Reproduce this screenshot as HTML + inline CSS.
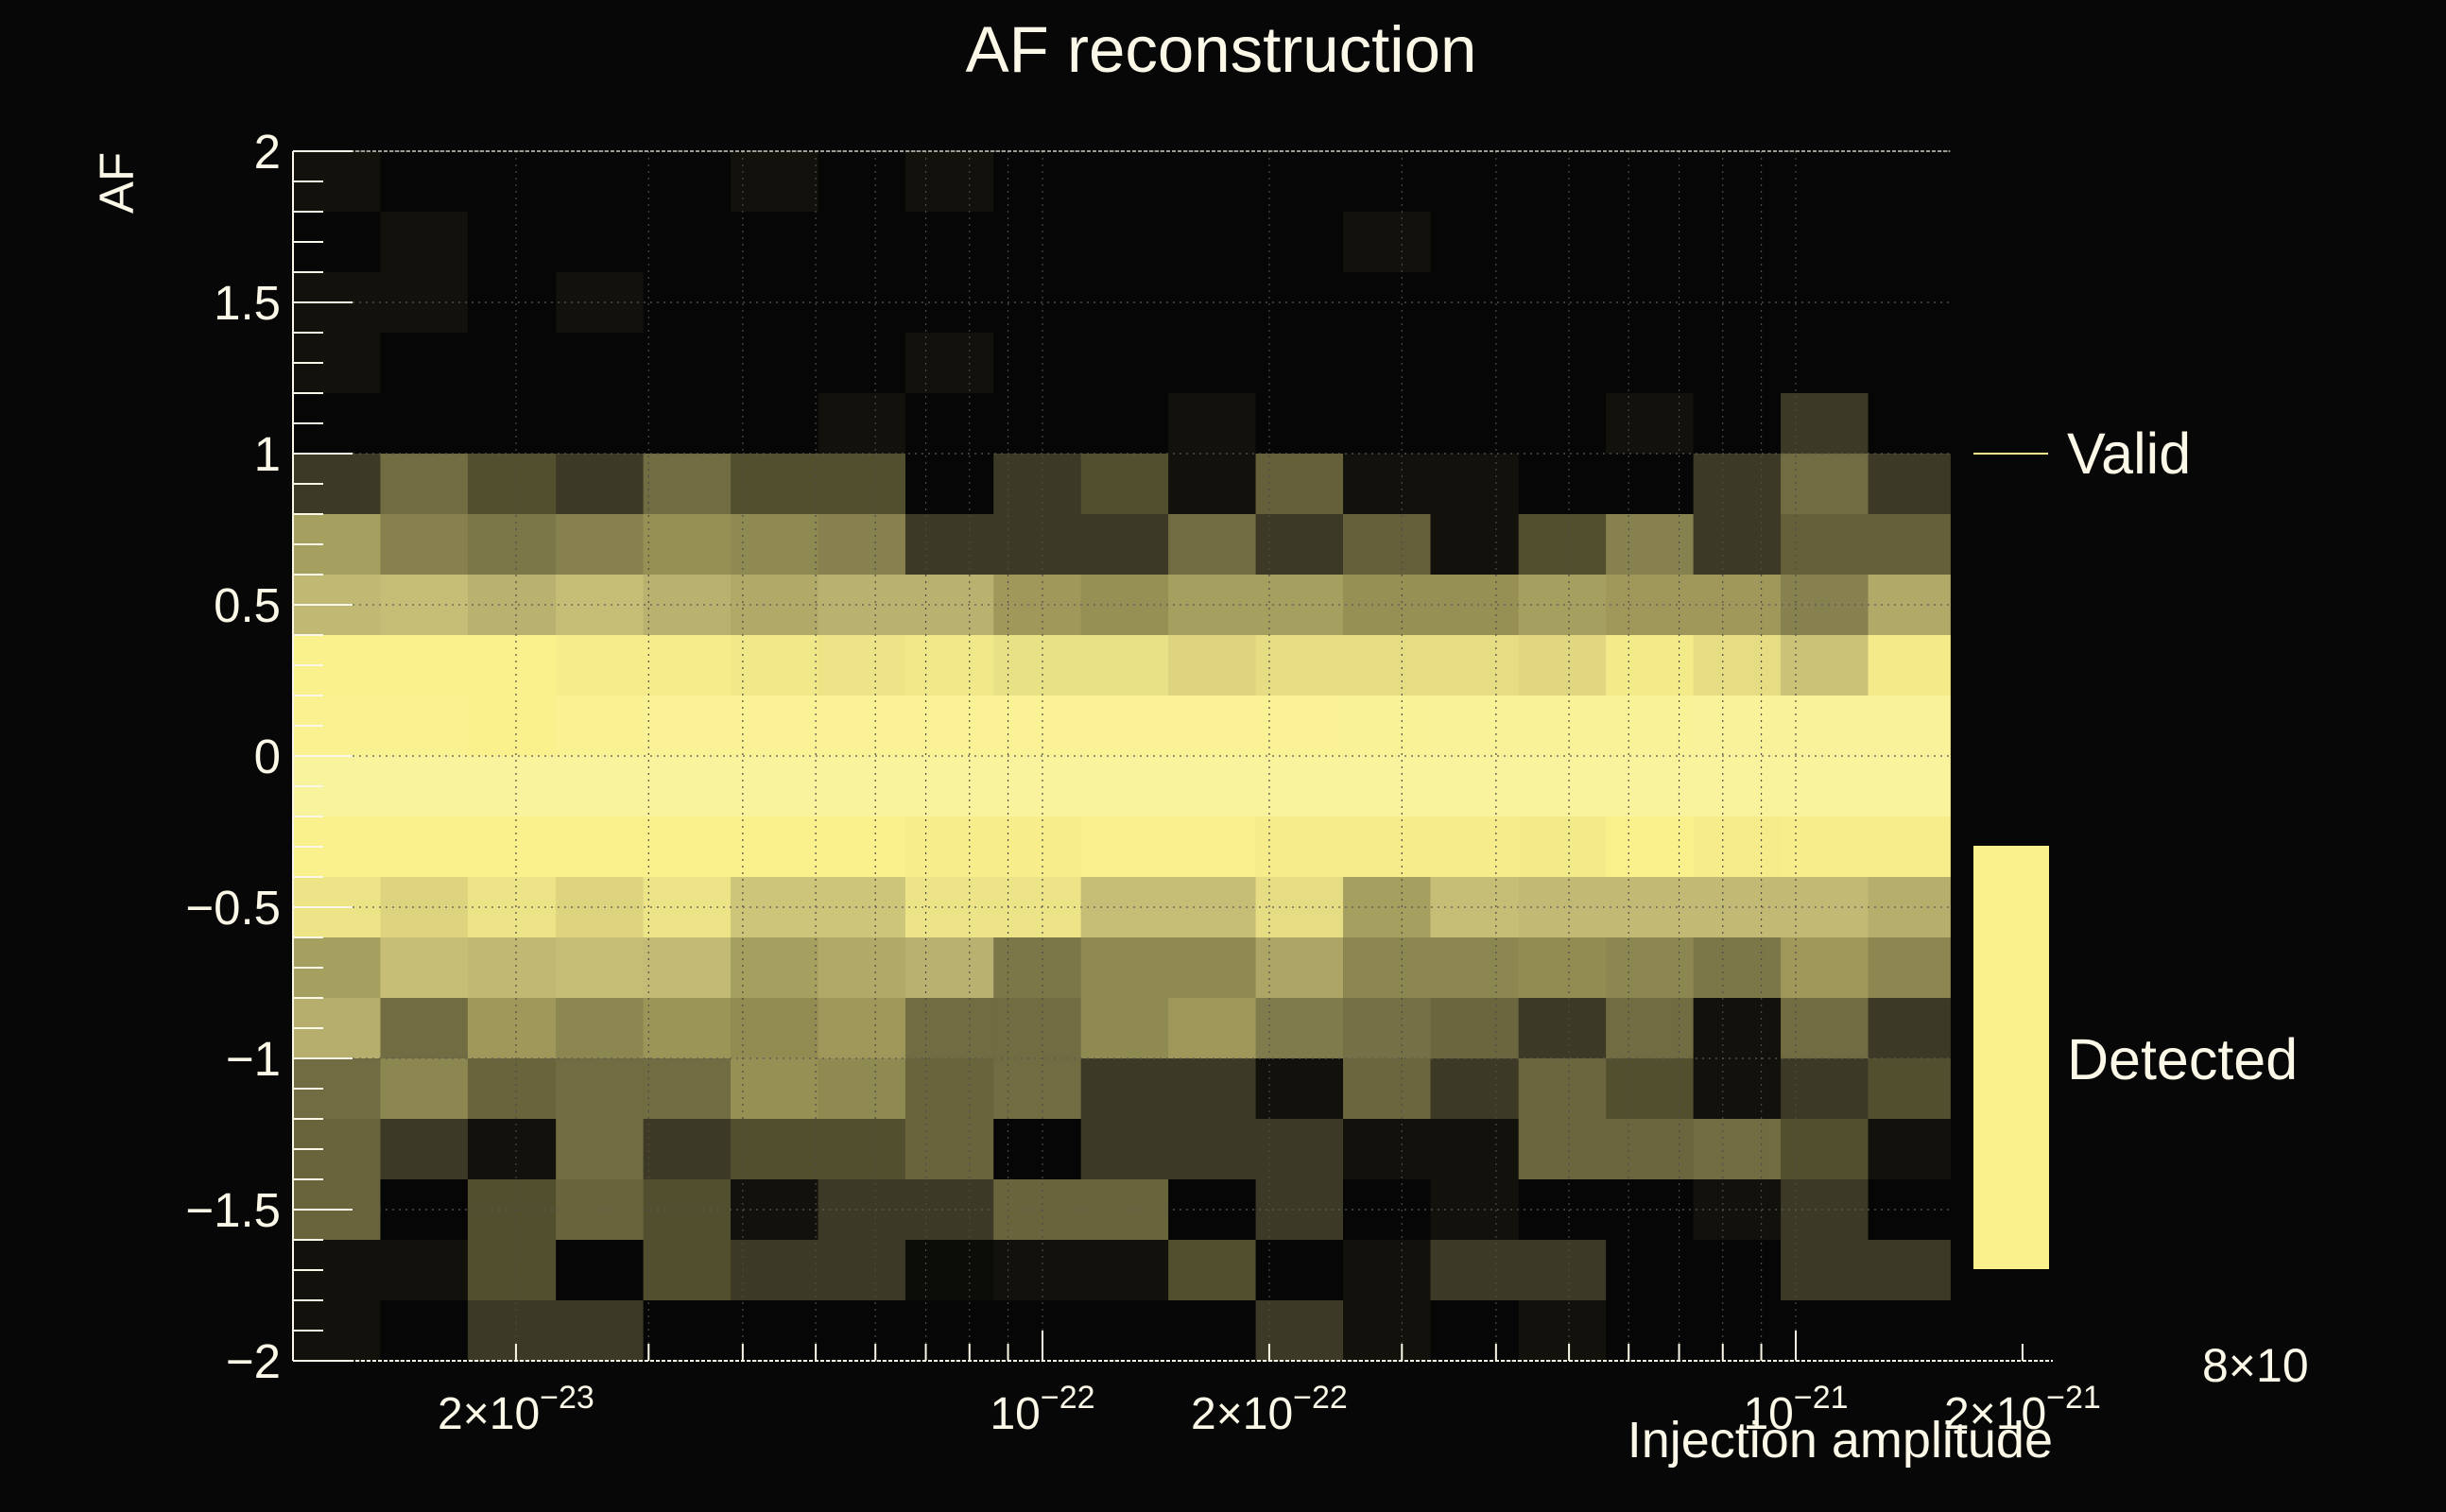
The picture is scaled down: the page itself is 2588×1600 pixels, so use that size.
<!DOCTYPE html>
<html><head><meta charset="utf-8"><style>
html,body{margin:0;padding:0;background:#070707;}
svg{display:block;}
text{font-family:"Liberation Sans",sans-serif;fill:#fbf8e8;}
</style></head><body>
<svg id="chart" width="2588" height="1600" viewBox="0 0 2588 1600" xmlns="http://www.w3.org/2000/svg">
<rect x="0" y="0" width="2588" height="1600" fill="#070707"/>
<g id="cells"></g>
<g id="grid"></g>
<g id="axes"></g>
<text x="1292" y="76" font-size="69" text-anchor="middle">AF reconstruction</text>
<text transform="translate(141,226) rotate(-90)" font-size="51">AF</text>
<text x="2172" y="1542" font-size="54" text-anchor="end">Injection amplitude</text>
<text x="2330" y="1462" font-size="50">8×10</text>
<g>
<line x1="2088" y1="480" x2="2167" y2="480" stroke="#faf08c" stroke-width="2"/>
<text x="2187" y="501" font-size="61">Valid</text>
<rect x="2088" y="895" width="80" height="448" fill="#faf08c"/>
<text x="2187" y="1142" font-size="61">Detected</text>
</g>
</svg>
<script>
// x bin edges (log10 of injection amplitude), y bins, cell values (rows top->bottom, AF 2 -> -2)
const xBinsLog = [-22.995,-22.879,-22.763,-22.646,-22.530,-22.414,-22.298,-22.182,-22.065,-21.949,-21.833,-21.717,-21.601,-21.485,-21.368,-21.252,-21.136,-21.020,-20.904,-20.795];
const yTop = [2,1.8,1.6,1.4,1.2,1,0.8,0.6,0.4,0.2,0,-0.2,-0.4,-0.6,-0.8,-1,-1.2,-1.4,-1.6,-1.8];
const row0 = [1,0,0,0,0,1,0,1,0,0,0,0,0,0,0,0,0,0,0];
const row1 = [0,1,0,0,0,0,0,0,0,0,0,0,1,0,0,0,0,0,0];
const row2 = [1,1,0,1,0,0,0,0,0,0,0,0,0,0,0,0,0,0,0];
const row3 = [1,0,0,0,0,0,0,1,0,0,0,0,0,0,0,0,0,0,0];
const row4 = [0,0,0,0,0,0,1,0,0,0,1,0,0,0,0,1,0,2,0];
const row5 = [2,5,3,2,5,3,3,0,2,3,1,4,1,1,0,0,2,5,2];
const row6 = [8,6,5.5,6,7,6.5,6,2,2,2,5,2,4,1,3,6,2,4,4];
const row7 = [9.5,10,9,10,9,8.5,9,9,7.5,7,8,8,7,7,8,7.5,7.5,6,8.5];
const row8 = [13,13,13,12.7,12.7,12.3,12,12.3,11.8,11.8,11,11.5,11.5,11.5,11.2,12.5,11.5,10.2,12.5];
const row9 = [13.2,13.2,13,13.4,13.5,13.5,13.5,13.5,13.5,13.5,13.5,13.5,13.6,13.7,13.7,13.7,13.8,13.8,13.8];
const row10 = [14,14,14,14,14,14,14,14,14,14,14,14.2,14.3,14.3,14.3,14.3,14.3,14.3,14.3];
const row11 = [13,13,13,13,13,13,13,12.8,12.8,12.9,12.9,12.7,12.7,12.7,12.5,13,12.7,12.8,12.8];
const row12 = [12,11,12,11,12,10.3,10.3,12,12,10,10,11.5,8,10,9.7,9.7,9.7,9.7,8.8];
const row13 = [8,10,9.5,10,9.8,8,8.5,9,5.5,6.5,6.5,8.3,6.3,6.3,6.7,6.3,5.5,7.5,6.3];
const row14 = [8.8,5,7.5,6.3,7.3,6.7,7.5,5,5,6.5,7.5,5.7,5.2,4.5,2,5,1,5,2];
const row15 = [5,6.3,4.3,5,5,7,6.5,4.3,5,2,2,1,4.5,2,4.5,3,1,2,3];
const row16 = [4.3,2,1,5,2,3,3,4.3,0,2,2,2,1,1,4.5,4.5,5,3,1];
const row17 = [4.3,0,3,4.3,3,1,2,2,4.3,4.3,0,2,0,1,0,0,1,2,0];
const row18 = [1,1,3,0,3,2,2,0.5,1,1,3,0,1,2,2,0,0,2,2];
const row19 = [1,0,2,2,0,0,0,0,0,0,0,2,1,0,1,0,0,0,0];
const values = [row0,row1,row2,row3,row4,row5,row6,row7,row8,row9,row10,row11,row12,row13,row14,row15,row16,row17,row18,row19];
const yTicks = [2,1.5,1,0.5,0,-0.5,-1,-1.5,-2];
const yTickLabels = ["2","1.5","1","0.5","0","\u22120.5","\u22121","\u22121.5","\u22122"];
const xTickLog = [-22.69897,-22,-21.69897,-21,-20.69897];
const xTickPre = ["2\u00d710","10","2\u00d710","10","2\u00d710"];
const xTickExp = ["\u221223","\u221222","\u221222","\u221221","\u221221"];

const NS="http://www.w3.org/2000/svg";
const L=310, R=2172, T=160, B=1440;
const X0=-22.995, PXD=797;
function xs(lg){return L+(lg-X0)*PXD;}
function ys(v){return T+(2-v)*320;}
const ramp=[[6,6,6],[18,17,12],[60,58,38],[82,79,47],[101,96,58],[113,108,66],[135,129,80],[151,144,84],[166,160,96],[185,177,112],[198,190,118],[222,212,128],[236,228,135],[250,240,140],[250,243,158]];
function col(v){v=Math.max(0,Math.min(14,v));const i=Math.min(13,Math.floor(v)),f=v-i;const a=ramp[i],b=ramp[i+1];
return "rgb("+a.map((c,k)=>Math.round(c+(b[k]-c)*f)).join(",")+")";}
function mk(tag,attrs,parent){const e=document.createElementNS(NS,tag);for(const k in attrs)e.setAttribute(k,attrs[k]);parent.appendChild(e);return e;}

const cells=document.getElementById('cells');
values.forEach((row,r)=>{row.forEach((v,c)=>{
  const x1=xs(xBinsLog[c]),x2=xs(xBinsLog[c+1]);
  const e=mk('rect',{x:x1,y:ys(yTop[r]),width:x2-x1+0.5,height:ys(yTop[r]-0.2)-ys(yTop[r])+0.5,fill:col(v)},cells);
  
  
});});

const grid=document.getElementById('grid');
const xr=xs(xBinsLog[xBinsLog.length-1]);
for(let d=-23;d<=-21;d++){for(let m=1;m<=9;m++){const lg=d+Math.log10(m);const x=xs(lg);if(x<=L+2||x>R)continue;
  if(x<xr){
  const g=mk('line',{x1:x,y1:T,x2:x,y2:B,stroke:'#4c4c46','stroke-width':1.2,'stroke-dasharray':'2,5'},grid);
  
  
  }
  const tk=mk('line',{x1:x,y1:B,x2:x,y2:B-(m===1?32:18),stroke:'#fbf8e8','stroke-width':2},grid);
  
  
}}
yTicks.forEach(v=>{const g=mk('line',{x1:L,y1:ys(v),x2:xr,y2:ys(v),stroke:'#5a5a54','stroke-width':1.2,'stroke-dasharray':'2,5'},grid);
  
  });

const axes=document.getElementById('axes');
let a=mk('line',{x1:L,y1:T,x2:L,y2:B,stroke:'#fbf8e8','stroke-width':2},axes);


a=mk('line',{x1:L,y1:B,x2:R,y2:B,stroke:'#fbf8e8','stroke-width':2,'stroke-dasharray':'4,2'},axes);


a=mk('line',{x1:L,y1:T,x2:xr,y2:T,stroke:'#cfcdc0','stroke-width':1.5,'stroke-dasharray':'4,2'},axes);


for(let i=0;i<=40;i++){const v=2-i*0.1;const major=(i%5===0);
  const t=mk('line',{x1:L,y1:ys(v),x2:L+(major?63:32),y2:ys(v),stroke:'#fbf8e8','stroke-width':2},axes);
  
  }
yTicks.forEach((v,i)=>{const t=mk('text',{x:297,y:ys(v)+18,'font-size':51,'text-anchor':'end'},axes);t.textContent=yTickLabels[i];
  
  });
xTickLog.forEach((lg,i)=>{const t=mk('text',{x:xs(lg),y:1512,'font-size':48,'text-anchor':'middle'},axes);
  
  
  const s1=mk('tspan',{},t);s1.textContent=xTickPre[i];
  const s2=mk('tspan',{dy:-22,'font-size':34},t);s2.textContent=xTickExp[i];});
</script>
</body></html>
